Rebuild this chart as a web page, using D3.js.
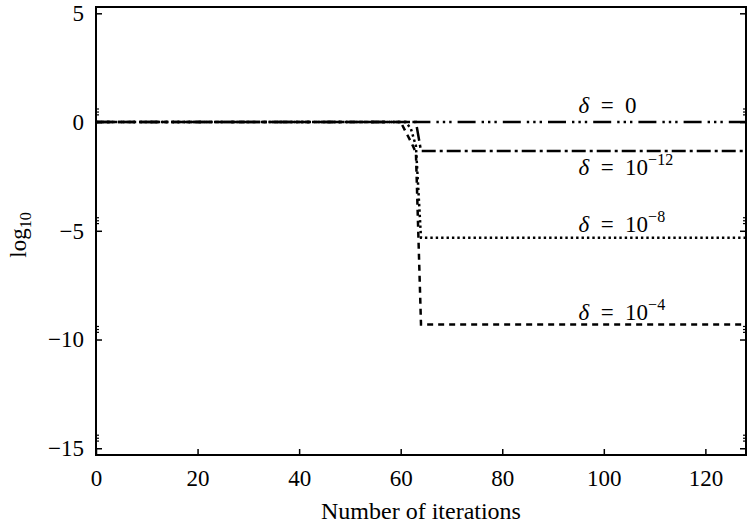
<!DOCTYPE html>
<html lang="en">
<head>
  <meta charset="UTF-8">
  <title>log10 vs iterations</title>
  <style>
    body { margin: 0; background: #fff; }
    text { font-family: "Liberation Serif", "DejaVu Serif", serif; fill: #000; }
  </style>
</head>
<body>
<svg width="750" height="525"></svg>
<script src="https://cdn.jsdelivr.net/npm/d3@7/dist/d3.min.js"></script>
<script>
  // shared x values (iteration numbers where something happens)
  var iterations = [0, 60, 61, 62, 63, 64, 128]
  // log10 values for each delta
  var delta0   = [0, 0, 0, 0, 0, 0, 0]
  var delta1e12 = [0, 0, 0, 0, 0, -1.33, -1.33]
  var delta1e8 = [0, 0, 0, -0.3, -1.1, -5.32, -5.32]
  var delta1e4 = [0, 0, -0.45, -0.9, -1.4, -9.31, -9.31]

  var xTicks = [0, 20, 40, 60, 80, 100, 120]
  var yTicks = [5, 0, -5, -10, -15]
  var yTickLabels = ['5', '0', '\u22125', '\u221210', '\u221215']

  var series = [
    { name: '1e-4',  values: delta1e4,  dash: '6,5' },
    { name: '1e-8',  values: delta1e8,  dash: '2.4,3' },
    { name: '1e-12', values: delta1e12, dash: '14,4,3,4' },
    { name: '0',     values: delta0,    dash: '18,6,2.4,4,2.4,4,2.4,6' }
  ]

  // annotation text: [x, y, exponent]
  var labels = [
    [95, 0.41, null],
    [95, -2.43, '\u221212'],
    [95, -5.05, '\u22128'],
    [95, -9.08, '\u22124']
  ]

  var width = 750, height = 525
  var margin = { top: 7, right: 4, bottom: 70, left: 96 }
  var svg = d3.select('svg')

  var x = d3.scaleLinear().domain([0, 128]).range([margin.left, width - margin.right])
  var y = d3.scaleLinear().domain([-15.31, 5.29]).range([height - margin.bottom, margin.top])

  svg.append('defs').append('clipPath').attr('id', 'clip')
    .append('rect')
    .attr('x', margin.left).attr('y', margin.top)
    .attr('width', width - margin.left - margin.right)
    .attr('height', height - margin.top - margin.bottom)

  // bottom axis, ticks pointing inward
  var xAxis = d3.axisBottom(x).tickValues(xTicks).tickSize(-6).tickPadding(15)
  var gx = svg.append('g').attr('transform', `translate(0,${height - margin.bottom})`).call(xAxis)
  gx.select('.domain').remove()
  gx.selectAll('line').attr('stroke-width', 1.5)
  gx.selectAll('text').attr('font-size', 23).attr('dy', '0.71em')

  // left axis
  var yAxis = d3.axisLeft(y).tickValues(yTicks).tickSize(-6).tickPadding(12)
    .tickFormat((d, i) => yTickLabels[i])
  var gy = svg.append('g').attr('transform', `translate(${margin.left},0)`).call(yAxis)
  gy.select('.domain').remove()
  gy.selectAll('line').attr('stroke-width', 1.5)
  gy.selectAll('text').attr('font-size', 23)

  // right side major ticks
  var gr = svg.append('g').attr('transform', `translate(${width - margin.right},0)`)
    .call(d3.axisRight(y).tickValues(yTicks).tickSize(-6).tickFormat(''))
  gr.select('.domain').remove()
  gr.selectAll('line').attr('stroke-width', 1.5)

  // small clustered ticks above each major y tick
  var minor = []
  yTicks.slice(1).forEach(t => [0.33, 0.46, 0.6].forEach(o => minor.push(t + o)))
  ;[[margin.left, 3], [width - margin.right, -3]].forEach(([x0, len]) => {
    svg.append('g').selectAll('line').data(minor).enter().append('line')
      .attr('x1', x0).attr('x2', x0 + len)
      .attr('y1', d => y(d)).attr('y2', d => y(d))
      .attr('stroke', '#000').attr('stroke-width', 1.2)
  })

  // frame
  svg.append('rect')
    .attr('x', margin.left).attr('y', margin.top)
    .attr('width', width - margin.left - margin.right)
    .attr('height', height - margin.top - margin.bottom)
    .attr('fill', 'none').attr('stroke', '#000').attr('stroke-width', 2)

  var line = d3.line().x((d, i) => x(iterations[i])).y(d => y(d))

  svg.append('g').attr('clip-path', 'url(#clip)')
    .selectAll('path').data(series).enter().append('path')
    .attr('d', d => line(d.values))
    .attr('fill', 'none')
    .attr('stroke', '#000')
    .attr('stroke-width', 2.5)
    .attr('stroke-dasharray', d => d.dash)

  // annotations
  var lt = svg.append('g').selectAll('text').data(labels).enter().append('text')
    .attr('x', d => x(d[0])).attr('y', d => y(d[1]))
    .attr('font-size', 23)
  lt.append('tspan').attr('font-style', 'italic').text('\u03b4')
  lt.append('tspan').text(d => d[2] ? '\u2002=\u200210' : '\u2002=\u20020')
  lt.filter(d => d[2]).append('tspan')
    .attr('dy', -10).attr('font-size', 16).text(d => d[2])

  // axis titles
  svg.append('text')
    .attr('x', (margin.left + width - margin.right) / 2).attr('y', 519)
    .attr('text-anchor', 'middle').attr('font-size', 24)
    .text('Number of iterations')

  var yl = svg.append('text')
    .attr('transform', `translate(26,${(margin.top + height - margin.bottom) / 2 + 4}) rotate(-90)`)
    .attr('text-anchor', 'middle').attr('font-size', 23)
  yl.append('tspan').text('log')
  yl.append('tspan').attr('dy', 5).attr('font-size', 16).text('10')
</script>
</body>
</html>
